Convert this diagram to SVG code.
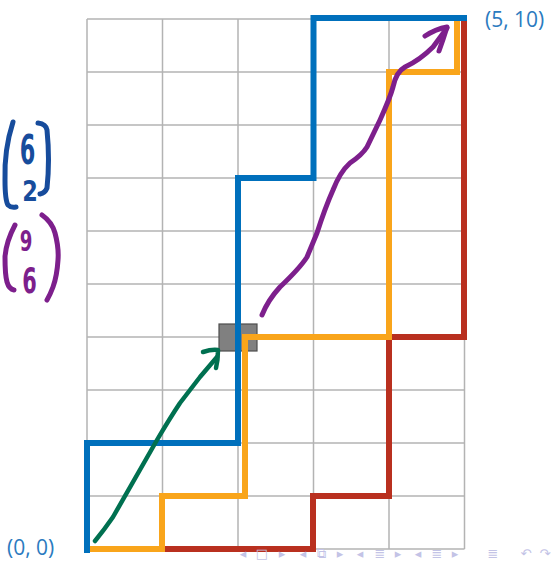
<svg xmlns="http://www.w3.org/2000/svg" width="551" height="561" viewBox="0 0 551 561">
<style>
.grid line{stroke:#b3b3b3;stroke-width:1.5}
.path{fill:none;stroke-width:6;stroke-linejoin:miter;stroke-linecap:square}
.hand{fill:none;stroke-linecap:round;stroke-linejoin:round}
.lbl{font-family:"Open Sans","Liberation Sans",sans-serif;font-size:21px;fill:#2b7bc0}
.dig{font-family:"DejaVu Sans",sans-serif;font-weight:bold;text-anchor:middle}
.nav{font-family:"DejaVu Sans",sans-serif;font-size:13px;fill:#c3c3e6;text-anchor:middle}
</style>
<rect width="551" height="561" fill="#ffffff"/>
<g id="grid" class="grid">
<line x1="87" y1="19" x2="87" y2="549"/>
<line x1="162.5" y1="19" x2="162.5" y2="549"/>
<line x1="238" y1="19" x2="238" y2="549"/>
<line x1="313.5" y1="19" x2="313.5" y2="549"/>
<line x1="389" y1="19" x2="389" y2="549"/>
<line x1="464.5" y1="19" x2="464.5" y2="549"/>
<line x1="87" y1="19" x2="464.5" y2="19"/>
<line x1="87" y1="72" x2="464.5" y2="72"/>
<line x1="87" y1="125" x2="464.5" y2="125"/>
<line x1="87" y1="178" x2="464.5" y2="178"/>
<line x1="87" y1="231" x2="464.5" y2="231"/>
<line x1="87" y1="284" x2="464.5" y2="284"/>
<line x1="87" y1="337" x2="464.5" y2="337"/>
<line x1="87" y1="390" x2="464.5" y2="390"/>
<line x1="87" y1="443" x2="464.5" y2="443"/>
<line x1="87" y1="496" x2="464.5" y2="496"/>
<line x1="87" y1="549" x2="464.5" y2="549"/>
</g>
<g id="square">
<rect x="219" y="324" width="38" height="27" fill="#808080" stroke="#4d4d4d" stroke-width="1.2"/>
</g>
<g id="connectors">
<path class="path" stroke="#b9301f" d="M165 549 H313 V496 H389 V337 H464 V20"/>
<path class="path" stroke="#f9a51b" d="M88 549 H162 V496 H245 V337 H389 V72 H457 V20"/>
<path class="path" stroke="#0070bc" d="M87 550 V443 H238 V178 H313.5 V18 H464"/>
<path class="hand" stroke="#007050" stroke-width="4.5" d="M95 541 Q104 530 113 517 L157 440 Q170 418 180 403 L200 377 L217 357"/>
<path class="hand" stroke="#007050" stroke-width="4.5" d="M203 352 Q212 349 218 350 Q218 360 216 368"/>
<path class="hand" stroke="#7d1f8c" stroke-width="5" d="M262 315 Q268 300 280 287 Q300 268 307 257 L317 233 Q325 208 333 190 Q340 172 350 163 Q362 155 367 147 L380 120 Q390 98 393 87 Q396 72 405 67 Q420 60 433 47 L447 28"/>
<path class="hand" stroke="#7d1f8c" stroke-width="5" d="M425 36 Q436 29 447 27 Q443 40 439 51"/>
</g>
<g id="label-end"><text class="lbl" x="485" y="27">(5, 10)</text></g>
<g id="label-start"><text class="lbl" x="7" y="555">(0, 0)</text></g>
<g id="binom-blue">
<path class="hand" stroke="#174c9c" stroke-width="5" d="M13 122 Q4 150 5 180 Q5 200 8 205 Q11 208 16 207"/>
<path class="hand" stroke="#174c9c" stroke-width="5" d="M38 123 Q46 124 47 130 Q50 160 47 188 Q45 193 40 194"/>
<text class="dig" fill="#174c9c" font-size="40" transform="translate(27.5 164) scale(0.56 1)">6</text>
<text class="dig" fill="#174c9c" font-size="28" transform="translate(30 201) scale(0.8 1)">2</text>
</g>
<g id="binom-purple">
<path class="hand" stroke="#7d1f8c" stroke-width="5" d="M15 225 Q6 242 5 257 Q5 275 7 282 Q9 289 14 290"/>
<path class="hand" stroke="#7d1f8c" stroke-width="5" d="M42 215 Q52 222 55 233 Q59 248 58 260 Q57 276 53 287 Q50 295 47 300"/>
<text class="dig" fill="#7d1f8c" font-size="28" transform="translate(26 251) scale(0.65 1)">9</text>
<text class="dig" fill="#7d1f8c" font-size="36" transform="translate(29.5 293) scale(0.58 1)">6</text>
</g>
<g id="nav" class="nav">
<text x="243" y="558">◂</text>
<text x="262" y="558">□</text>
<text x="282" y="558">▸</text>
<text x="303" y="558">◂</text>
<text x="321" y="558">⧉</text>
<text x="340" y="558">▸</text>
<text x="360" y="558">◂</text>
<text x="380" y="558">≣</text>
<text x="398" y="558">▸</text>
<text x="418" y="558">◂</text>
<text x="437" y="558">≣</text>
<text x="455" y="558">▸</text>
<text x="493" y="558">≣</text>
<text x="526" y="558">↶</text>
<text x="545" y="558">↷</text>
</g>
</svg>
